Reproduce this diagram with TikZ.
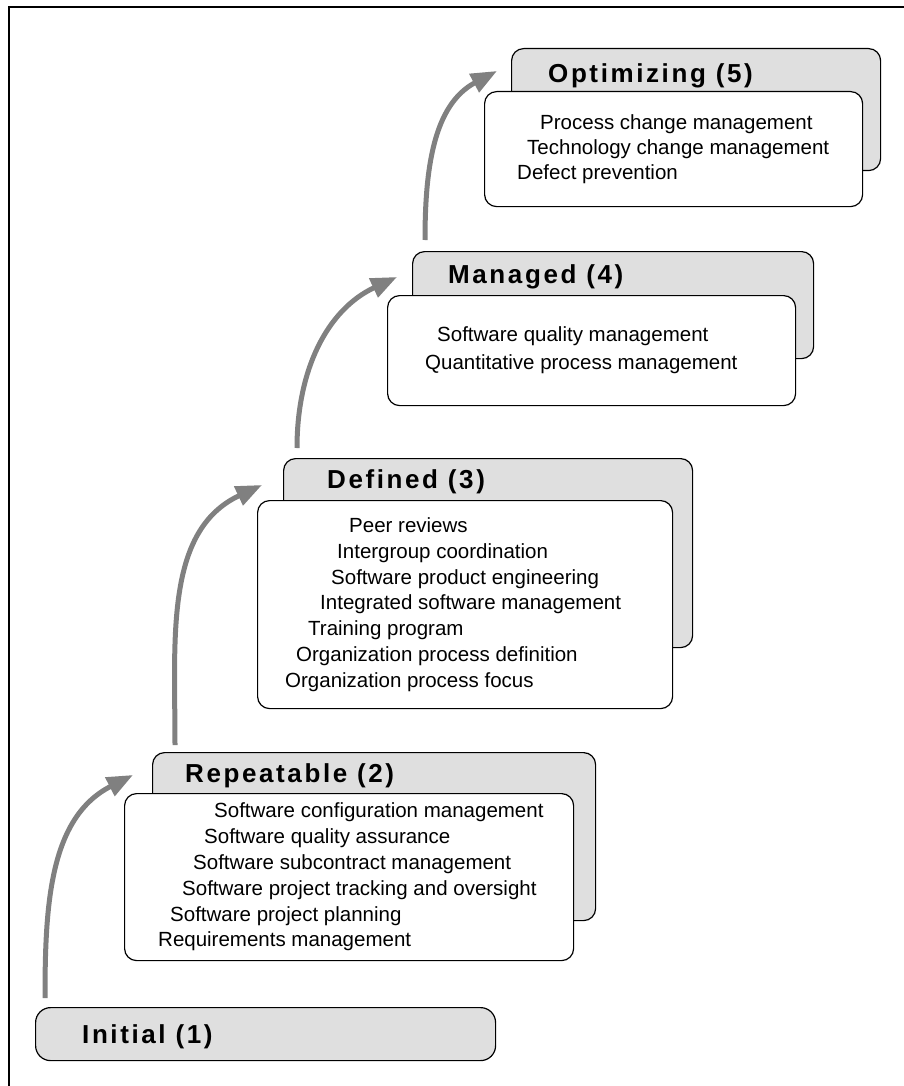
\documentclass[tikz,border=0pt]{standalone}
\usepackage{fontspec}
\setmainfont{Liberation Sans}
\newfontfamily\titlefont[LetterSpace=10]{Liberation Sans}
\usetikzlibrary{arrows.meta, positioning}
\newcommand\lvlind[1]{\hspace*{#1pt}}
\tikzset{%
    backsty/.style={
        rounded corners=12pt,
        draw,
        fill=gray!25,
        line width=1.2pt,
        inner sep=0pt,
        anchor=north west,
    },
    frontsty/.style={
        backsty,
        fill=white,
    },
    titlesty/.style={
        inner sep=0pt,
        font=\titlefont\bfseries\fontsize{26}{30}\selectfont,
    },
    liststy/.style={
        align=left,
        inner sep=0pt,
        font=\fontsize{20.5}{25.8}\selectfont,
    },
    stepsty/.style={
        draw=gray,
        line width=5pt,
        -{Triangle[length=26pt,width=20pt]},
    },
}
\begin{document}
\begin{tikzpicture}[x=1pt,y=-1pt]
\useasboundingbox (0,0) rectangle (904,1086);

% frame
\draw [line width=1.5pt] (9,1086) -- (9,7) -- (904,7);

% initial level
\node (init) [backsty,rounded corners=15pt,minimum width=460pt,minimum height=53pt] at (35,1007) {};
\node (initt) [titlesty,below right=36pt and 47pt of init.north west,anchor=base west] {Initial (1)};

% repeatable level
\node (rb) [backsty,minimum width=443pt,minimum height=168pt] at (152,752) {};
\node (rbt) [titlesty,below right=30pt and 33pt of rb.north west,anchor=base west] {Repeatable (2)};
\node (rf) [frontsty,below right=41pt and -28pt of rb.north west,anchor=north west,minimum width=449pt,minimum height=167pt] {};
\node (rl) [liststy,right=34pt of rf.west] {%
\lvlind{56}Software configuration management\\
\lvlind{46}Software quality assurance\\
\lvlind{35}Software subcontract management\\
\lvlind{24}Software project tracking and oversight\\
\lvlind{12}Software project planning\\
Requirements management};

% defined level
\node (db) [backsty,minimum width=409pt,minimum height=189pt] at (283,458) {};
\node (dbt) [titlesty,below right=30pt and 44pt of db.north west,anchor=base west] {Defined (3)};
\node (df) [frontsty,below right=42pt and -26pt of db.north west,anchor=north west,minimum width=415pt,minimum height=208pt] {};
\node (dl) [liststy,right=28pt of df.west] {%
\lvlind{64}Peer reviews\\
\lvlind{52}Intergroup coordination\\
\lvlind{46}Software product engineering\\
\lvlind{35}Integrated software management\\
\lvlind{23}Training program\\
\lvlind{11}Organization process definition\\
Organization process focus};

% managed level
\node (mb) [backsty,minimum width=401pt,minimum height=107pt] at (412,251) {};
\node (mbt) [titlesty,below right=32pt and 36pt of mb.north west,anchor=base west] {Managed (4)};
\node (mf) [frontsty,below right=44pt and -25pt of mb.north west,anchor=north west,minimum width=408pt,minimum height=110pt] {};
\node (ml) [liststy,right=38pt of mf.west] {%
\lvlind{12}Software quality management\\[2.2pt]
Quantitative process management};

% optimizing level
\node (ob) [backsty,minimum width=369pt,minimum height=122pt] at (511,48) {};
\node (obt) [titlesty,below right=35pt and 37pt of ob.north west,anchor=base west] {Optimizing (5)};
\node (of) [frontsty,below right=43pt and -27pt of ob.north west,anchor=north west,minimum width=378pt,minimum height=115pt] {};
\node (ol) [liststy,right=33pt of of.west] {%
\lvlind{23}Process change management\\[-0.8pt]
\lvlind{10}Technology change management\\[-0.8pt]
Defect prevention};

% steps
\draw [stepsty] ([shift={(10pt,9pt)}]init.north west) to[out=90,in=207] ([shift={(-19pt,-23pt)}]rb.north west);
\draw [stepsty] ([shift={(23pt,7pt)}]rb.north west) to[out=90,in=205] ([shift={(-21pt,-27pt)}]db.north west);
\draw [stepsty] ([shift={(14pt,10pt)}]db.north west) to[out=90,in=205] ([shift={(-15pt,-26pt)}]mb.north west);
\draw [stepsty] ([shift={(13pt,11pt)}]mb.north west) to[out=90,in=208] ([shift={(-14pt,-23pt)}]ob.north west);

\end{tikzpicture}
\end{document}
